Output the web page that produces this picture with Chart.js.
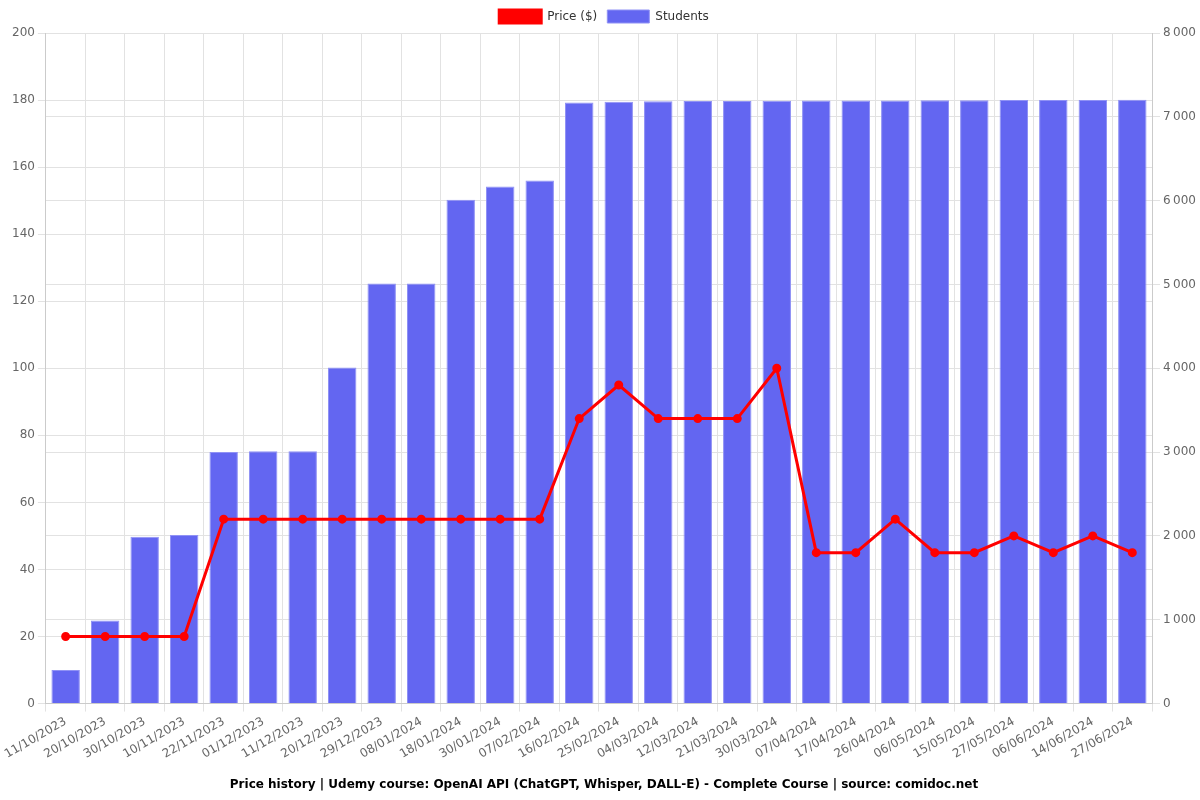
<!DOCTYPE html>
<html>
<head>
<meta charset="utf-8">
<script src="https://cdn.jsdelivr.net/npm/chart.js@4/dist/chart.umd.min.js"></script>
<style>
  html, body { margin: 0; padding: 0; background: #fff; }
  #wrap { width: 1200px; height: 800px; }
</style>
</head>
<body>
<div id="wrap"><canvas id="chart"></canvas></div>
<script>
var dates = ['11/10/2023','20/10/2023','30/10/2023','10/11/2023','22/11/2023','01/12/2023','11/12/2023',
  '20/12/2023','29/12/2023','08/01/2024','18/01/2024','30/01/2024','07/02/2024','16/02/2024','25/02/2024',
  '04/03/2024','12/03/2024','21/03/2024','30/03/2024','07/04/2024','17/04/2024','26/04/2024','06/05/2024',
  '15/05/2024','27/05/2024','06/06/2024','14/06/2024','27/06/2024'];
var price = [20,20,20,20,55,55,55,55,55,55,55,55,55,85,95,85,85,85,100,45,45,55,45,45,50,45,50,45];
var students = [400,990,1990,2010,3000,3010,3010,4010,5010,5010,6010,6170,6240,7170,7180,7185,7190,7190,
  7192,7194,7195,7196,7197,7198,7200,7200,7202,7203];

Chart.defaults.font.family = 'DejaVu Sans';
Chart.defaults.font.size = 12;
Chart.defaults.color = '#666';

function spaced(v){
  return String(v).replace(/\B(?=(\d{3})+(?!\d))/g, '\u202f');
}

window.chart_obj = new Chart(document.getElementById('chart').getContext('2d'), {
  type: 'bar',
  data: {
    labels: dates,
    datasets: [{
      type: 'line',
      label: 'Price ($)',
      data: price,
      yAxisID: 'y',
      borderColor: '#ff0000',
      backgroundColor: '#ff0000',
      borderWidth: 3,
      pointRadius: 3,
      pointHoverRadius: 4,
      tension: 0,
      order: 0
    }, {
      type: 'bar',
      label: 'Students',
      data: students,
      yAxisID: 'y1',
      backgroundColor: '#6366f1',
      borderColor: '#9092f5',
      borderWidth: 1,
      order: 1
    }]
  },
  options: {
    responsive: true,
    maintainAspectRatio: false,
    animation: false,
    layout: { padding: { left: 9, right: 1, top: 0, bottom: 4 } },
    plugins: {
      legend: {
        position: 'top',
        labels: { color: '#333', boxWidth: 42, boxHeight: 13 }
      },
      title: {
        display: true,
        position: 'bottom',
        text: 'Price history | Udemy course: OpenAI API (ChatGPT, Whisper, DALL-E) - Complete Course | source: comidoc.net',
        color: '#000',
        font: { size: 12, weight: 'bold' },
        padding: { top: 13, bottom: 4 }
      }
    },
    scales: {
      x: {
        ticks: { minRotation: 30, maxRotation: 30, autoSkip: false },
        grid: { color: '#e2e2e2' }
      },
      y: {
        position: 'left',
        min: 0, max: 200,
        ticks: { stepSize: 20 },
        grid: { color: '#e2e2e2' }
      },
      y1: {
        position: 'right',
        min: 0, max: 8000,
        ticks: { stepSize: 1000, callback: function(v){ return spaced(v); } },
        grid: { color: '#e2e2e2' }
      }
    }
  }
});
</script>
</body>
</html>
